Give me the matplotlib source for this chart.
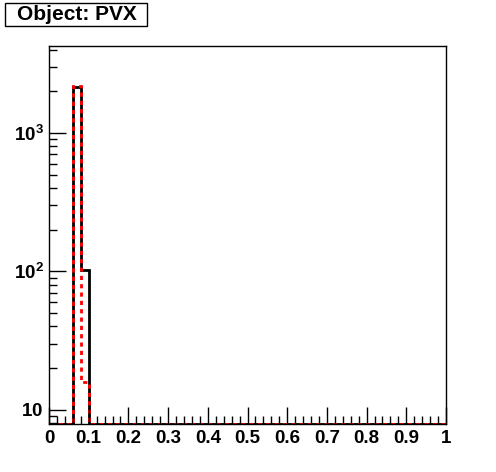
import matplotlib
matplotlib.use("Agg")
import matplotlib.pyplot as plt
import numpy as np
from matplotlib.patches import Rectangle
from matplotlib.ticker import MultipleLocator, LogLocator, FixedLocator, FixedFormatter

plt.rcParams['font.family'] = ['Liberation Sans', 'DejaVu Sans']
plt.rcParams['mathtext.fontset'] = 'custom'
plt.rcParams['mathtext.bf'] = 'Liberation Sans:bold'
plt.rcParams['mathtext.rm'] = 'Liberation Sans:bold'

# histogram data: 50 bins from 0 to 1
bin_edges = np.linspace(0, 1, 51)
black_counts = np.zeros(50)
black_counts[3] = 2150
black_counts[4] = 103
red_counts = np.zeros(50)
red_counts[3] = 2180
red_counts[4] = 16

title = "Object: PVX"
xtick_vals = np.arange(0, 1.01, 0.1)
xtick_labels = ["0", "0.1", "0.2", "0.3", "0.4", "0.5", "0.6", "0.7", "0.8", "0.9", "1"]
ytick_vals = [10, 100, 1000]
ytick_labels = [r"$\mathbf{10}$", r"$\mathbf{10^{2}}$", r"$\mathbf{10^{3}}$"]

YMIN, YMAX = 7.9, 4250
W, H = 496, 472

fig = plt.figure(figsize=(W/100, H/100), dpi=100)
ax = fig.add_axes([49/W, 1 - 424/H, (446 - 49)/W, (424 - 46)/H])

# empty bins are drawn on the bottom edge like ROOT does
ax.stairs(np.clip(black_counts, YMIN, None), bin_edges, color="black", lw=2)
ax.stairs(np.clip(red_counts, YMIN, None), bin_edges, color="red", lw=2,
          linestyle=(0, (1.5, 1.5)))

ax.set_yscale("log")
ax.set_xlim(0, 1)
ax.set_ylim(YMIN, YMAX)

ax.xaxis.set_major_locator(FixedLocator(xtick_vals))
ax.xaxis.set_major_formatter(FixedFormatter(xtick_labels))
ax.xaxis.set_minor_locator(MultipleLocator(0.02))
ax.yaxis.set_major_locator(FixedLocator(ytick_vals))
ax.yaxis.set_major_formatter(FixedFormatter(ytick_labels))
ax.yaxis.set_minor_locator(LogLocator(base=10, subs=np.arange(2, 10)))
ax.yaxis.set_minor_formatter(plt.NullFormatter())

ax.tick_params(which="both", direction="in", top=False, right=False, width=1)
ax.tick_params(which="major", length=12, labelsize=13.5, pad=4)
ax.tick_params(which="minor", length=6)
for lab in ax.get_xticklabels():
    lab.set_fontweight("bold")
for sp in ax.spines.values():
    sp.set_linewidth(1)

# title box in the top left corner
fig.patches.append(Rectangle((5/W, 1 - 26/H), 142/W, 23/H, transform=fig.transFigure,
                             fc="white", ec="black", lw=1))
fig.text(77/W, 1 - 15/H, title, ha="center", va="center", fontsize=15,
         fontweight="bold")

fig.savefig("out.png", dpi=100)
